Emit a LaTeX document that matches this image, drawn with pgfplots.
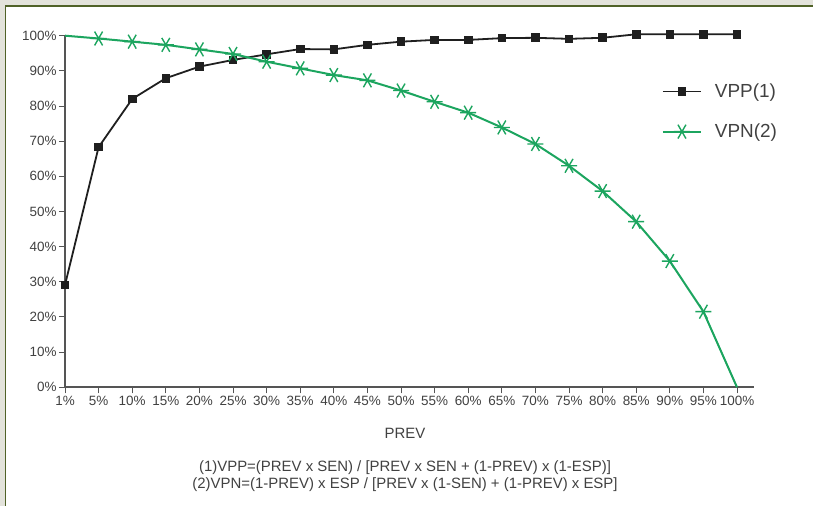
\documentclass[border=0pt]{standalone}
\usepackage{pgfplots}
\pgfplotsset{compat=1.18}
\usepackage{fontspec}
\setmainfont{Liberation Sans}
\definecolor{bggray}{RGB}{227,227,219}
\definecolor{olive}{RGB}{80,98,40}
\definecolor{vpngreen}{RGB}{28,165,95}
\definecolor{axgray}{RGB}{85,85,85}
\definecolor{txtgray}{RGB}{65,65,65}
\begin{document}
\begin{tikzpicture}[x=1bp,y=1bp]
\useasboundingbox (0,0) rectangle (813,506);
\fill[bggray] (0,0) rectangle (813,506);
\fill[white] (5.5,0) rectangle (813,500);
\draw[olive,line width=1.4bp] (5.5,0) -- (5.5,500) -- (813,500);
\begin{axis}[
  scale only axis,
  width=688.8bp, height=351.6bp,
  at={(65bp,118.7bp)}, anchor=south west,
  xmin=0, xmax=20.5, ymin=0, ymax=100,
  clip=false,
  axis x line=bottom, axis y line=left,
  axis line style={-, axgray, line width=1.6bp},
  tick style={axgray, line width=1bp},
  tick align=outside,
  major tick length=6bp,
  xtick={0,...,20},
  xticklabels={1\%,5\%,10\%,15\%,20\%,25\%,30\%,35\%,40\%,45\%,50\%,55\%,60\%,65\%,70\%,75\%,80\%,85\%,90\%,95\%,100\%},
  ytick={0,10,...,100},
  yticklabels={0\%,10\%,20\%,30\%,40\%,50\%,60\%,70\%,80\%,90\%,100\%},
  tick label style={font=\fontsize{13.5}{13.5}\selectfont, text=txtgray},
  xticklabel style={yshift=1bp},
  yticklabel style={xshift=1bp},
  legend style={draw=none, fill=none, at={(rel axis cs:0.862,0.875)}, anchor=north west,
    font=\fontsize{19}{19}\selectfont, text=txtgray, row sep=21bp},
  legend cell align=left,
  legend image code/.code={\draw[#1, mark indices={2}] plot coordinates {(0bp,0bp) (19bp,0bp) (38bp,0bp)};
    \path[draw=none, fill=none] (0bp,0bp) rectangle (50bp,0.1bp);},
]
\addplot[black!88, line width=1.8bp, mark=square*, mark size=3.4bp,
  mark options={solid}]
 coordinates {
 (0,29.1) (1,68.3) (2,82.0) (3,87.9) (4,91.2) (5,93.1) (6,94.7) (7,96.2)
 (8,96.1) (9,97.4) (10,98.3) (11,98.8) (12,98.8) (13,99.3) (14,99.4)
 (15,99.1) (16,99.4) (17,100.4) (18,100.4) (19,100.4) (20,100.4)
 };
\addlegendentry{VPP(1)}
\addplot[vpngreen, line width=2bp, mark=asterisk, mark size=8bp,
  mark options={solid, rotate=90, line width=1.4bp},
  mark indices={2,3,4,5,6,7,8,9,10,11,12,13,14,15,16,17,18,19,20}]
 coordinates {
 (0,100) (1,99.2) (2,98.3) (3,97.4) (4,96.1) (5,94.8) (6,92.6) (7,90.7)
 (8,88.8) (9,87.3) (10,84.4) (11,81.2) (12,78.1) (13,73.9) (14,69.2)
 (15,63.0) (16,55.8) (17,47.1) (18,35.9) (19,21.5) (20,0)
 };
\addlegendentry{VPN(2)}
\end{axis}
\node[text=txtgray, font=\fontsize{15}{15}\selectfont] at (405,73) {PREV};
\node[text=txtgray, font=\fontsize{15}{15}\selectfont] at (405,38) {(1)VPP=(PREV x SEN) / [PREV x SEN + (1-PREV) x (1-ESP)]};
\node[text=txtgray, font=\fontsize{15}{15}\selectfont] at (405,21) {(2)VPN=(1-PREV) x ESP / [PREV x (1-SEN) + (1-PREV) x ESP]};
\end{tikzpicture}
\end{document}
